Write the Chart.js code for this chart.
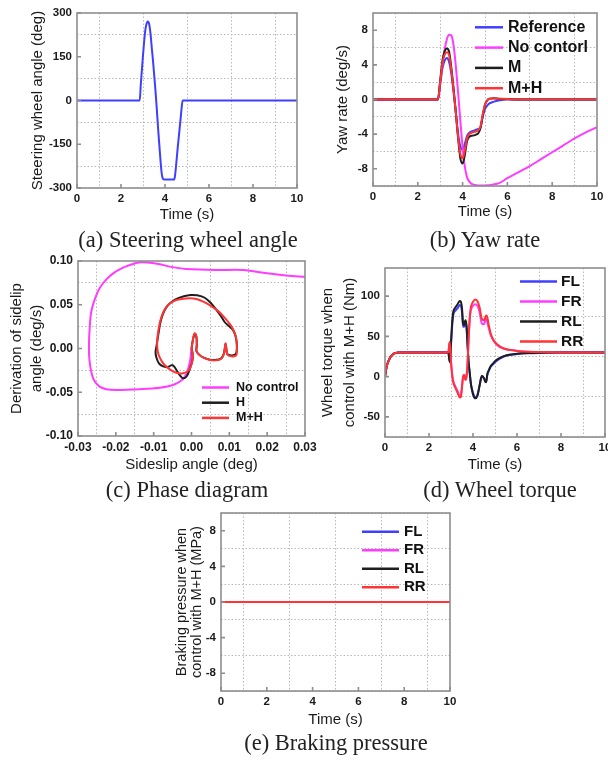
<!DOCTYPE html>
<html>
<head>
<meta charset="utf-8">
<script src="https://cdn.jsdelivr.net/npm/chart.js@4.4.1/dist/chart.umd.min.js"></script>
<style>
  body { margin: 0; background: #fff; width: 608px; height: 760px; position: relative; overflow: hidden; }
  .panel { position: absolute; }
  .cap { position: absolute; transform: translate(-50%, -50%); white-space: nowrap;
         font-family: 'Liberation Serif', 'Times New Roman', serif; font-size: 22.5px; color: #222; }
</style>
</head>
<body>
<div class="panel" style="left:0;top:0"><canvas id="cA" width="310" height="232"></canvas></div>
<div class="panel" style="left:300px;top:0"><canvas id="cB" width="308" height="232"></canvas></div>
<div class="panel" style="left:0;top:245px"><canvas id="cC" width="325" height="230"></canvas></div>
<div class="panel" style="left:310px;top:245px"><canvas id="cD" width="310" height="230"></canvas></div>
<div class="panel" style="left:150px;top:480px"><canvas id="cE" width="320" height="270"></canvas></div>

<div class="cap" style="left:188px;top:240px">(a) Steering wheel angle</div>
<div class="cap" style="left:485px;top:240px">(b) Yaw rate</div>
<div class="cap" style="left:187px;top:490px">(c) Phase diagram</div>
<div class="cap" style="left:500px;top:490px">(d) Wheel torque</div>
<div class="cap" style="left:336px;top:743px">(e) Braking pressure</div>

<script>
'use strict'

// (a) steering wheel angle
var steerTime = [0, 2.85, 2.9, 2.95, 3.0, 3.05, 3.1, 3.15, 3.22, 3.28, 3.34, 3.4, 3.45, 3.5, 3.55, 3.6, 3.65, 3.7, 3.75, 3.8, 3.85, 3.9, 3.95, 4.42, 4.46, 4.52, 4.58, 4.64, 4.7, 4.75, 4.8, 10];
var steerAngle = [0, 0, 55, 105, 155, 200, 238, 260, 271, 262, 230, 180, 140, 95, 50, 0, -55, -110, -160, -210, -250, -268, -271, -271, -255, -210, -160, -115, -70, -30, 0, 0];

// (b) yaw rate
var yawTime = [0, 2.9, 3.0, 3.1, 3.2, 3.3, 3.4, 3.5, 3.6, 3.7, 3.8, 3.9, 4.0, 4.1, 4.2, 4.3, 4.4, 4.5, 4.6, 4.7, 4.8, 4.9, 5.0, 5.1, 5.2, 5.4, 5.6, 6.0, 6.5, 7.0, 7.5, 8.0, 8.5, 9.0, 9.5, 10];
var yawRef = [0, 0, 1.8, 3.6, 4.5, 4.8, 4.3, 2.9, 0.8, -1.6, -4.0, -5.4, -5.8, -5.1, -4.2, -3.85, -3.7, -3.6, -3.5, -3.4, -3.2, -2.0, -1.1, -0.7, -0.45, -0.25, -0.12, 0, 0, 0, 0, 0, 0, 0, 0, 0];
var yawNoCtrl = [0, 0, 1.8, 4.0, 5.8, 7.0, 7.5, 7.4, 6.2, 3.8, 0.8, -2.5, -5.5, -7.8, -9.0, -9.5, -9.75, -9.85, -9.9, -9.95, -9.95, -9.95, -9.95, -9.9, -9.9, -9.8, -9.7, -9.1, -8.4, -7.7, -6.9, -6.1, -5.3, -4.5, -3.8, -3.2];
var yawM = [0, 0, 2.2, 4.5, 5.6, 5.9, 5.5, 3.6, 1.2, -1.5, -4.5, -6.8, -7.4, -6.4, -4.8, -4.3, -4.2, -4.15, -4.05, -3.9, -3.3, -1.8, -0.6, -0.1, 0.1, 0.15, 0.1, 0.05, 0, 0, 0, 0, 0, 0, 0, 0];
var yawMH = [0, 0, 2.0, 4.2, 5.2, 5.45, 5.1, 3.3, 1.0, -1.6, -4.3, -6.3, -6.8, -5.9, -4.5, -4.0, -3.85, -3.75, -3.7, -3.55, -3.1, -1.7, -0.6, -0.1, 0.1, 0.12, 0.1, 0.05, 0, 0, 0, 0, 0, 0, 0, 0];

// (c) phase diagram: sideslip angle vs its derivative
var ncBeta = [0, -0.0003, -0.0008, -0.0015, -0.0025, -0.0049, -0.0084, -0.0137, -0.0199, -0.0225, -0.0243, -0.0258, -0.0265, -0.0270, -0.0271, -0.0269, -0.0265, -0.0255, -0.0243, -0.0225, -0.0207, -0.0185, -0.0163, -0.0137, -0.0110, -0.0084, -0.0050, -0.0013, 0.0066, 0.0137, 0.0200, 0.0250, 0.0300, 0.0320];
var ncRate = [0, -0.012, -0.022, -0.030, -0.036, -0.0417, -0.0448, -0.0465, -0.0474, -0.0465, -0.0436, -0.0360, -0.0265, -0.0120, 0.0040, 0.0240, 0.0420, 0.0570, 0.0688, 0.0790, 0.0859, 0.0915, 0.0954, 0.0985, 0.0980, 0.0962, 0.0930, 0.0909, 0.0897, 0.0897, 0.0859, 0.0835, 0.0820, 0.0815];
var hBeta = [0, 0.0003, 0.0006, 0.0009, 0.0013, 0.0014, 0.0013, 0.0020, 0.0032, 0.0049, 0.0065, 0.0078, 0.0085, 0.0088, 0.0090, 0.0092, 0.0095, 0.0105, 0.0115, 0.0119, 0.0120, 0.0117, 0.0110, 0.0098, 0.0088, 0.0078, 0.0066, 0.0052, 0.0035, 0.0015, -0.0003, -0.0020, -0.0035, -0.0050, -0.0063, -0.0073, -0.0081, -0.0087, -0.0092, -0.0095, -0.0093, -0.0086, -0.0075, -0.0062, -0.0052, -0.0045, -0.0038, -0.0030, -0.0023, -0.0013, -0.0005, 0.0002, 0.0003, 0];
var hRate = [0, 0.008, 0.014, 0.0165, 0.013, 0.004, -0.003, -0.007, -0.0105, -0.0128, -0.0130, -0.0115, -0.0065, 0.0000, 0.0055, 0.0000, -0.0065, -0.0080, -0.0070, -0.0040, 0.0040, 0.0130, 0.0210, 0.0260, 0.0300, 0.0370, 0.0440, 0.0516, 0.0580, 0.0608, 0.0612, 0.0598, 0.0575, 0.0540, 0.0490, 0.0420, 0.0320, 0.0180, 0.0040, -0.0040, -0.0100, -0.0170, -0.0205, -0.0212, -0.0190, -0.0210, -0.0260, -0.0310, -0.0340, -0.0320, -0.0240, -0.0140, -0.0060, 0];
var mhBeta = [0, 0.0003, 0.0006, 0.0009, 0.0013, 0.0014, 0.0013, 0.0020, 0.0032, 0.0049, 0.0065, 0.0078, 0.0085, 0.0088, 0.0090, 0.0092, 0.0095, 0.0105, 0.0115, 0.0119, 0.0120, 0.0118, 0.0113, 0.0103, 0.0088, 0.0070, 0.0050, 0.0031, 0.0013, -0.0005, -0.0022, -0.0040, -0.0055, -0.0066, -0.0077, -0.0084, -0.0089, -0.0091, -0.0089, -0.0085, -0.0078, -0.0071, -0.0060, -0.0049, -0.0035, -0.0022, -0.0010, -0.0004, 0.0002, 0.0004, 0.0002, 0];
var mhRate = [0, 0.008, 0.015, 0.0174, 0.014, 0.005, -0.003, -0.007, -0.0105, -0.0131, -0.0135, -0.0120, -0.0070, 0.0000, 0.0060, 0.0000, -0.0070, -0.0090, -0.0085, -0.0074, 0.0020, 0.0120, 0.0190, 0.0270, 0.0350, 0.0430, 0.0490, 0.0535, 0.0565, 0.0574, 0.0568, 0.0554, 0.0520, 0.0478, 0.0390, 0.0288, 0.0160, 0.0050, -0.0037, -0.0094, -0.0150, -0.0189, -0.0230, -0.0262, -0.0283, -0.0283, -0.0260, -0.0226, -0.0150, -0.0090, -0.0040, 0];

// (d) wheel torque with M+H
var torqTime = [0, 0.05, 0.1, 0.2, 0.3, 0.4, 0.5, 0.6, 0.8, 2.88, 2.92, 2.95, 3.0, 3.05, 3.1, 3.2, 3.3, 3.4, 3.45, 3.5, 3.55, 3.6, 3.65, 3.7, 3.75, 3.8, 3.85, 3.9, 3.95, 4.0, 4.1, 4.2, 4.3, 4.4, 4.5, 4.55, 4.6, 4.65, 4.7, 4.75, 4.8, 4.9, 5.0, 5.2, 5.4, 5.7, 6.0, 6.5, 7.0, 8.0, 10];
var torqFL = [0, 9, 15, 22, 26, 28.5, 29.5, 30, 30, 30, 22, 18, 40, 62, 76, 82, 85, 89, 88, 80, 62, 62, 68, 63, 40, 18, 5, -8, -15, -20, -26, -23, -11, 0, -2, -5, -6, 2, 6, 9, 12, 15, 18, 22, 25, 27, 28, 29, 29.5, 30, 30];
var torqFR = [0, 9, 15, 22, 26, 28.5, 29.5, 30, 30, 30, 40, 43, 20, 4, -5, -12, -18, -24, -23, -12, 0, 2, -4, -1, 15, 45, 70, 82, 86, 88, 90, 88, 80, 66, 65, 69, 72, 68, 62, 57, 52, 46, 42, 37, 35, 33, 32, 31, 30.5, 30, 30];
var torqRL = [0, 9, 15, 22, 26, 28.5, 29.5, 30, 30, 30, 22, 18, 42, 66, 80, 86, 90, 94, 93, 85, 66, 64, 70, 65, 42, 18, 5, -8, -16, -22, -27, -24, -11, 1, -2, -6, -7, 3, 7, 10, 13, 16, 19, 23, 25.5, 27.5, 28.5, 29.3, 29.7, 30, 30];
var torqRR = [0, 9, 15, 22, 26, 28.5, 29.5, 30, 30, 30, 40, 43, 18, 2, -7, -14, -20, -26, -25, -13, 0, 2, -4, -1, 16, 47, 73, 86, 90, 93, 96, 94, 86, 72, 70, 73, 76, 74, 66, 60, 54, 47, 43, 38, 35, 33, 32, 31, 30.5, 30, 30];

// (e) braking pressure with M+H
var brakeTime = [0, 10];
var brakeFL = [0, 0];
var brakeFR = [0, 0];
var brakeRL = [0, 0];
var brakeRR = [0, 0];

var FONT = "'Liberation Sans', Arial, sans-serif";
var BLUE = '#3f3fff', MAGENTA = '#ff3cff', BLACK = '#1e1e1e', RED = '#ff3434';

function pts(xs, ys) {
  return xs.map(function (x, i) { return { x: x, y: ys[i] }; });
}

function stepIndex(v, step) {
  var k = Math.round(v / step);
  return Math.abs(v - k * step) < step * 1e-6 ? k : null;
}
function isMajor(v, step) { var k = stepIndex(v, step); return k !== null && k % 2 === 0; }
function isMinor(v, step) { var k = stepIndex(v, step); return k !== null && k % 2 !== 0; }

// minor step = half the labelled step; dotted grid only on the minor positions
function linAxis(o) {
  return {
    type: 'linear', min: o.min, max: o.max,
    ticks: {
      stepSize: o.step, autoSkip: false, maxRotation: 0, minRotation: 0,
      padding: o.tickPad, color: '#1a1a1a',
      font: { family: FONT, size: o.tickSize || 11.5, weight: 'bold' },
      callback: function (v) { return isMajor(v, o.step) ? Number(v).toFixed(o.dec) : ''; }
    },
    grid: {
      drawTicks: false, lineWidth: 1,
      color: function (c) { return isMinor(c.tick.value, o.step) ? '#b8b8b8' : 'rgba(0,0,0,0)'; }
    },
    border: { display: false, dash: [1.5, 2] },
    title: {
      display: true, text: o.title, color: '#1a1a1a',
      font: { family: FONT, size: o.titleSize || 15, lineHeight: o.lh || '18px' },
      padding: o.titlePad
    },
    afterFit: o.fit
  };
}

function line(label, data, color, order) {
  return {
    label: label, data: data, borderColor: color, backgroundColor: color,
    borderWidth: 2, pointRadius: 0, fill: false, order: order,
    tension: 0.3, cubicInterpolationMode: 'monotone'
  };
}

var framePlugin = {
  id: 'frame',
  afterDatasetsDraw: function (chart) {
    var ctx = chart.ctx, a = chart.chartArea, sx = chart.scales.x, sy = chart.scales.y;
    ctx.save();
    ctx.strokeStyle = '#8e8e8e';
    ctx.lineWidth = 1.6;
    ctx.strokeRect(a.left, a.top, a.right - a.left, a.bottom - a.top);
    ctx.beginPath();
    sx.ticks.forEach(function (t) {
      if (t.label === '') return;
      var px = sx.getPixelForValue(t.value);
      ctx.moveTo(px, a.bottom); ctx.lineTo(px, a.bottom - 4);
    });
    sy.ticks.forEach(function (t) {
      if (t.label === '') return;
      var py = sy.getPixelForValue(t.value);
      ctx.moveTo(a.left, py); ctx.lineTo(a.left + 4, py);
    });
    ctx.stroke();
    ctx.restore();
  }
};

// legend drawn inside the plot, like the original figure
var boxLegend = {
  id: 'boxLegend',
  afterDraw: function (chart, args, opts) {
    if (opts.x === undefined) return;
    var ctx = chart.ctx;
    ctx.save();
    ctx.font = opts.font;
    ctx.textBaseline = 'middle';
    chart.data.datasets.forEach(function (ds, i) {
      var y = opts.y + i * opts.dy;
      ctx.strokeStyle = ds.borderColor;
      ctx.lineWidth = 2.5;
      ctx.beginPath(); ctx.moveTo(opts.x, y); ctx.lineTo(opts.x + opts.len, y); ctx.stroke();
      ctx.fillStyle = '#111';
      ctx.fillText(ds.label, opts.x + opts.len + opts.gap, y);
    });
    ctx.restore();
  }
};

function makeChart(id, datasets, xAxis, yAxis, pad, legend) {
  return new Chart(document.getElementById(id), {
    type: 'line',
    data: { datasets: datasets },
    options: {
      responsive: false, animation: false, parsing: true,
      layout: { padding: { left: 0, bottom: 0, top: pad.top, right: pad.right } },
      scales: { x: xAxis, y: yAxis },
      plugins: { legend: { display: false }, tooltip: { enabled: false }, boxLegend: legend || {} }
    },
    plugins: [framePlugin, boxLegend]
  });
}

function fixW(w) { return function (s) { s.width = w; }; }
function fixH(h) { return function (s) { s.height = h; }; }

// (a)
makeChart('cA',
  [line('Steering', pts(steerTime, steerAngle), BLUE, 1)],
  linAxis({ min: 0, max: 10, step: 1, dec: 0, tickPad: 4, title: 'Time (s)', titlePad: { top: 0, bottom: 8 }, fit: fixH(44) }),
  linAxis({ min: -300, max: 300, step: 75, dec: 0, tickPad: 5, title: 'Steering wheel angle (deg)', titlePad: { top: 29, bottom: 0 }, fit: fixW(77) }),
  { top: 13, right: 13 });

// (b)
makeChart('cB',
  [line('Reference', pts(yawTime, yawRef), BLUE, 4),
   line('No contorl', pts(yawTime, yawNoCtrl), MAGENTA, 3),
   line('M', pts(yawTime, yawM), BLACK, 2),
   line('M+H', pts(yawTime, yawMH), RED, 1)],
  linAxis({ min: 0, max: 10, step: 1, dec: 0, tickPad: 4, title: 'Time (s)', titlePad: { top: 0, bottom: 11 }, fit: fixH(46) }),
  linAxis({ min: -10, max: 10, step: 2, dec: 0, tickPad: 5, title: 'Yaw rate (deg/s)', titlePad: { top: 34, bottom: 0 }, fit: fixW(73) }),
  { top: 13, right: 11 },
  { x: 175, y: 27.3, dy: 20.3, len: 28, gap: 5, font: 'bold 16px ' + FONT });

// (c)
var cPhase = [line('No control', pts(ncBeta, ncRate), MAGENTA, 3),
              line('H', pts(hBeta, hRate), BLACK, 2),
              line('M+H', pts(mhBeta, mhRate), RED, 1)];
cPhase.forEach(function (d) { d.cubicInterpolationMode = 'default'; d.tension = 0.35; });
makeChart('cC', cPhase,
  linAxis({ min: -0.03, max: 0.03, step: 0.005, dec: 2, tickPad: 4, tickSize: 12, title: 'Sideslip angle (deg)', titlePad: { top: 0, bottom: 1 }, fit: fixH(39) }),
  linAxis({ min: -0.1, max: 0.1, step: 0.025, dec: 2, tickPad: 5, tickSize: 12, title: ['Derivation of sidelip', 'angle (deg/s)'], lh: '20px', titlePad: { top: 7, bottom: 0 }, fit: fixW(78) }),
  { top: 16, right: 20 },
  { x: 202, y: 142.5, dy: 15.2, len: 27, gap: 7, font: 'bold 12.5px ' + FONT });

// (d)
makeChart('cD',
  [line('FL', pts(torqTime, torqFL), BLUE, 4),
   line('FR', pts(torqTime, torqFR), MAGENTA, 3),
   line('RL', pts(torqTime, torqRL), BLACK, 2),
   line('RR', pts(torqTime, torqRR), RED, 1)],
  linAxis({ min: 0, max: 10, step: 1, dec: 0, tickPad: 4, title: 'Time (s)', titlePad: { top: 0, bottom: 1 }, fit: fixH(38) }),
  linAxis({ min: -75, max: 135, step: 25, dec: 0, tickPad: 5, title: ['Wheel torque when', 'control with M+H (Nm)'], lh: '22px', titlePad: { top: 7, bottom: 0 }, fit: fixW(75) }),
  { top: 23, right: 15 },
  { x: 210, y: 36.5, dy: 20, len: 37, gap: 4, font: 'bold 15.5px ' + FONT });

// (e)
makeChart('cE',
  [line('FL', pts(brakeTime, brakeFL), BLUE, 4),
   line('FR', pts(brakeTime, brakeFR), MAGENTA, 3),
   line('RL', pts(brakeTime, brakeRL), BLACK, 2),
   line('RR', pts(brakeTime, brakeRR), RED, 1)],
  linAxis({ min: 0, max: 10, step: 1, dec: 0, tickPad: 4, title: 'Time (s)', titlePad: { top: 0, bottom: 21 }, fit: fixH(59) }),
  linAxis({ min: -10, max: 10, step: 2, dec: 0, tickPad: 5, title: ['Braking pressure when', 'control with M+H (MPa)'], titleSize: 14.5, lh: '15px', titlePad: { top: 24.5, bottom: 0 }, fit: fixW(71) }),
  { top: 33, right: 20 },
  { x: 212, y: 51.7, dy: 18.5, len: 37, gap: 5, font: 'bold 15px ' + FONT });
</script>
</body>
</html>
